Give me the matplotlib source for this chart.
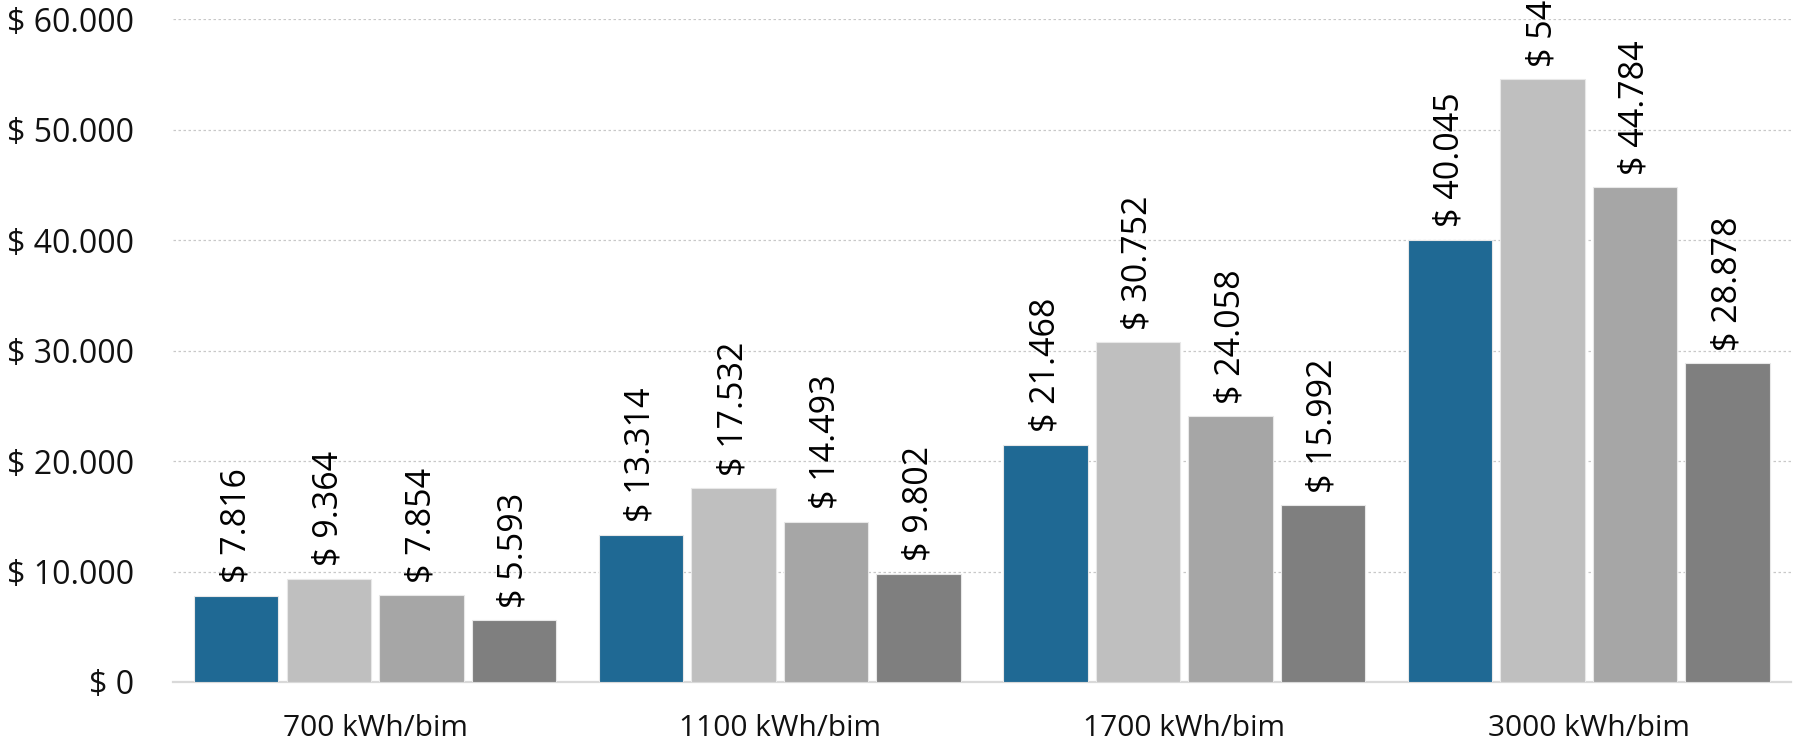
import matplotlib
matplotlib.use('Agg')
import matplotlib.pyplot as plt
import numpy as np

# datos
categorias = ['700 kWh/bim', '1100 kWh/bim', '1700 kWh/bim', '3000 kWh/bim']
serie_1 = [7816, 13314, 21468, 40045]
serie_2 = [9364, 17532, 30752, 54560]
serie_3 = [7854, 14493, 24058, 44784]
serie_4 = [5593, 9802, 15992, 28878]
y_ticks = [0, 10000, 20000, 30000, 40000, 50000, 60000]

colores = ['#1f6994', '#bfbfbf', '#a6a6a6', '#7f7f7f']

plt.rcParams['font.family'] = ['Open Sans', 'DejaVu Sans']


def fmt(v):
    if v == 0:
        return '$ 0'
    return '$ ' + '{:,}'.format(v).replace(',', '.')


fig = plt.figure(figsize=(17.94, 7.42), dpi=100)
ax = fig.add_axes([0.0964, 0.0809, 0.9019, 0.8931])

x = np.arange(len(categorias))
paso = 0.2287
ancho = 0.208
series = [serie_1, serie_2, serie_3, serie_4]
for i, s in enumerate(series):
    pos = x + (i - 1.5) * paso
    ax.bar(pos, s, width=ancho, color=colores[i], edgecolor='#e8e8e8',
           linewidth=0.8, zorder=3)
    for p, v in zip(pos, s):
        ax.annotate(fmt(v), (p, v), xytext=(0, 9), textcoords='offset points',
                    rotation=90, ha='center', va='bottom', fontsize=24.5,
                    color='black', annotation_clip=False)

ax.set_xlim(-0.5, len(categorias) - 0.5)
ax.set_ylim(0, 60000)
ax.set_yticks(y_ticks)
ax.set_yticklabels([fmt(v) for v in y_ticks], fontsize=23, color='#111111')
ax.set_xticks(x)
ax.set_xticklabels(categorias, fontsize=21.5, color='#111111')
ax.tick_params(axis='both', length=0)
ax.tick_params(axis='y', pad=28)
ax.tick_params(axis='x', pad=23)

ax.grid(axis='y', linestyle=(0, (2, 2)), color='#c8c8c8', linewidth=0.9, zorder=0)
for lado in ['top', 'right', 'left']:
    ax.spines[lado].set_visible(False)
ax.spines['bottom'].set_color('#d9d9d9')
ax.spines['bottom'].set_linewidth(1.6)

fig.savefig('out.png', dpi=100)
